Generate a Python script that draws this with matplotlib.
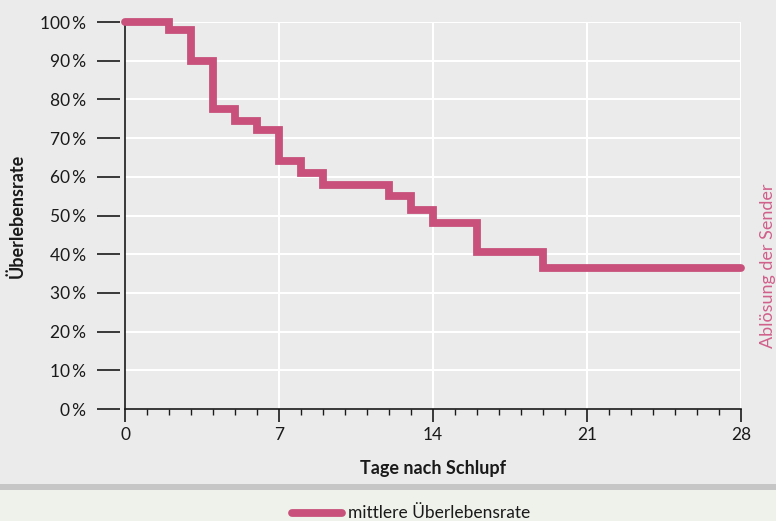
import matplotlib
matplotlib.use("Agg")
import matplotlib.pyplot as plt
from matplotlib.patches import Rectangle
from matplotlib.lines import Line2D

plt.rcParams['font.family'] = ['Lato', 'DejaVu Sans']

# Kaplan-Meier style survival steps: day where each level starts, survival in %
days = [0, 2, 3, 4, 5, 6, 7, 8, 9, 12, 13, 14, 16, 19, 28]
survival = [100, 98, 90, 77.5, 74.5, 72, 64, 61, 58, 55, 51.5, 48, 40.5, 36.5, 36.5]

x_ticks = [0, 7, 14, 21, 28]
y_ticks = [0, 10, 20, 30, 40, 50, 60, 70, 80, 90, 100]
y_tick_labels = [f"{v}\u2009%" for v in y_ticks]

line_color = "#c8507a"
bg = "#ebebeb"
footer_bg = "#eff2ea"
ink = "#1a1a1a"

W, H = 776, 521
fig = plt.figure(figsize=(W / 100, H / 100), dpi=100, facecolor=bg)

# footer band with separator line
fig.patches.append(Rectangle((0, 0), 1, (H - 490) / H, transform=fig.transFigure,
                             facecolor=footer_bg, edgecolor="none", zorder=0))
fig.patches.append(Rectangle((0, (H - 490) / H), 1, 6 / H, transform=fig.transFigure,
                             facecolor="#c6c6c6", edgecolor="none", zorder=0))

left, right, top, bottom = 125, 741, 22, 409
ax = fig.add_axes([left / W, (H - bottom) / H, (right - left) / W, (bottom - top) / H])
ax.set_facecolor(bg)

ax.set_xlim(0, 28)
ax.set_ylim(0, 100)

# grid
for x in x_ticks[1:]:
    ax.axvline(x, color="white", lw=1.5, zorder=1)
for y in y_ticks[1:]:
    ax.axhline(y, color="white", lw=1.5, zorder=1)

ax.step(days, survival, where="post", color=line_color, lw=5.6,
        solid_capstyle="round", solid_joinstyle="miter", zorder=3, clip_on=False)

for s in ["top", "right"]:
    ax.spines[s].set_visible(False)
for s in ["left", "bottom"]:
    ax.spines[s].set_color(ink)
    ax.spines[s].set_linewidth(1.2)

ax.set_xticks(x_ticks)
ax.set_xticks(range(0, 29), minor=True)
ax.set_yticks(y_ticks)
ax.set_yticklabels(y_tick_labels)
ax.tick_params(axis="x", which="major", length=9, width=1.2, color=ink,
               labelsize=12.5, labelcolor=ink, pad=4)
ax.tick_params(axis="x", which="minor", length=4, width=1, color=ink)
ax.tick_params(axis="y", which="minor", left=False)
# y tick marks sit a few pixels left of the spine
ax.tick_params(axis="y", length=0, pad=28, labelsize=12.5, labelcolor=ink)
for y in y_ticks:
    ax.plot([-1.27, -0.23], [y, y], color=ink, lw=1.2, clip_on=False,
            solid_capstyle="butt", zorder=2)

ax.set_xlabel("Tage nach Schlupf", fontsize=13, fontweight="bold", color=ink, labelpad=12)
fig.text(17 / W, 1 - 216 / H, "Überlebensrate", rotation=90, fontsize=13,
         fontweight="bold", color=ink, ha="center", va="center")

fig.text(768 / W, 1 - 266 / H, "Ablösung der Sender", rotation=90, fontsize=13,
         color="#d0608a", ha="center", va="center")

# legend in footer
fig.add_artist(Line2D([292 / W, 342 / W], [1 - 513 / H, 1 - 513 / H],
                      transform=fig.transFigure, color=line_color, lw=5.6,
                      solid_capstyle="round"))
fig.text(348 / W, 1 - 518 / H, "mittlere Überlebensrate", fontsize=12.5,
         color=ink, ha="left", va="baseline")

fig.savefig("out.png", dpi=100, facecolor=bg)
